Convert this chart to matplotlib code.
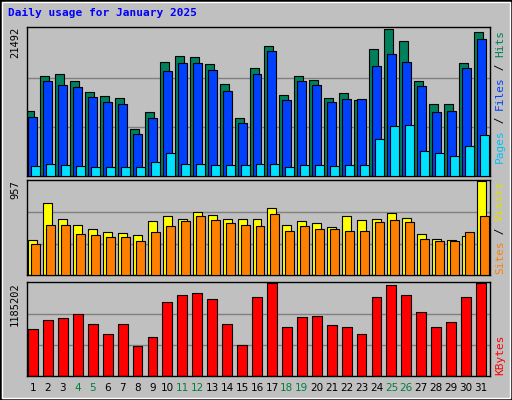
import numpy as np
import matplotlib
matplotlib.use('Agg')
import matplotlib.pyplot as plt
from matplotlib.patches import Rectangle

days = np.arange(1, 32)
hits = [9500, 14620, 14910, 13890, 12280, 11700, 11400, 6870, 9360, 16670, 17540, 17400, 16370, 13450, 8480,
        15790, 19010, 11840, 14620, 14040, 11400, 12130, 11110, 18570, 21350, 19740, 13890, 10530, 10530, 16520, 21050]
files = [8630, 13890, 13300, 13010, 11550, 10820, 10530, 6140, 8480, 15350, 16520, 16520, 15500, 12430, 7750,
         14910, 18280, 11110, 13890, 13300, 10820, 11260, 11260, 16080, 17840, 16670, 13160, 9360, 9500, 15790, 20030]
pages = [1460, 1750, 1610, 1460, 1320, 1320, 1320, 1320, 2050, 3360, 1750, 1750, 1610, 1610, 1610,
         1750, 1750, 1320, 1610, 1610, 1460, 1610, 1610, 5410, 7310, 7460, 3660, 3360, 2920, 4390, 5990]
visits = [358, 736, 568, 505, 463, 442, 431, 410, 547, 600, 568, 642, 610, 568, 568,
          568, 684, 505, 547, 526, 484, 600, 558, 568, 631, 579, 421, 368, 358, 400, 957]
sites = [316, 505, 505, 421, 410, 389, 389, 347, 442, 494, 547, 600, 558, 526, 505,
         494, 621, 452, 494, 463, 463, 452, 452, 537, 558, 537, 368, 347, 347, 442, 600]
kbyte_frac = [.509, .607, .618, .662, .564, .455, .564, .324, .422, .793, .869, .891, .825, .564, .335,
              .847, 1.0, .531, .629, .64, .553, .531, .455, .847, .978, .869, .684, .531, .575, .847, 1.0]
kbytes = [round(f * 1185202) for f in kbyte_frac]
weekend = [4, 5, 11, 12, 18, 19, 25, 26]

BG = '#C0C0C0'
W, H = 512, 400
fig = plt.figure(figsize=(W / 100, H / 100), dpi=100, facecolor=BG)
mono = 'DejaVu Sans Mono'

def px_axes(top, bottom):
    return fig.add_axes([27 / W, 1 - bottom / H, (490 - 27) / W, (bottom - top) / H], facecolor=BG)

def style(ax, ymax):
    ax.set_xlim(0.6, 31.6)
    ax.set_ylim(0, ymax * 1.01)
    ax.set_xticks([]); ax.set_yticks([])
    for y in (ymax / 3, ymax * 2 / 3):
        ax.axhline(y, color='#808080', lw=1, zorder=0)
    for s in ax.spines.values():
        s.set_color('black'); s.set_linewidth(1)

w = 0.6
ax1 = px_axes(27, 176)
ax1.bar(days - 0.2, hits, w, color='#00805C', edgecolor='black', lw=0.8, zorder=2)
ax1.bar(days, files, w, color='#0040FF', edgecolor='black', lw=0.8, zorder=3)
ax1.bar(days + 0.2, pages, w, color='#00E0FF', edgecolor='black', lw=0.8, zorder=4)
style(ax1, max(hits + [21492]))

ax2 = px_axes(180, 275)
ax2.bar(days, visits, w, color='#FFFF00', edgecolor='black', lw=0.8, zorder=2)
ax2.bar(days + 0.2, sites, w, color='#FF8000', edgecolor='black', lw=0.8, zorder=3)
style(ax2, 957)

ax3 = px_axes(282, 376)
ax3.bar(days, kbytes, 0.66, color='#FF0000', edgecolor='black', lw=0.8, zorder=2)
style(ax3, 1185202)

for d in days:
    ax3.text(d, -0.07, str(d), transform=ax3.get_xaxis_transform(), ha='center', va='top',
             fontsize=7.5, color='#008040' if d in weekend else 'black')

fig.text(8 / W, 1 - 8 / H, 'Daily usage for January 2025', color='#0000FF', fontsize=8,
         fontweight='bold', family=mono, ha='left', va='top')

for txt, top in (('21492', 27), ('957', 180), ('1185202', 282)):
    fig.text(15 / W, 1 - top / H, txt, rotation=90, fontsize=7.5, ha='center', va='top', family=mono)

def side_label(parts, y_start):
    y = y_start
    for s, c in parts:
        fig.text(500 / W, 1 - y / H, s, rotation=90, fontsize=8, color=c, family=mono,
                 ha='center', va='bottom')
        y -= len(s) * 6.6

side_label([('Pages', '#00C0FF'), (' / ', 'black'), ('Files', '#0040FF'),
            (' / ', 'black'), ('Hits', '#00805C')], 163)
side_label([('Sites', '#FF8000'), (' / ', 'black'), ('Visits', '#E0E000')], 274)
side_label([('KBytes', '#FF0000')], 375)

# 3D frame
fig.patches.append(Rectangle((0, 0), 1, 1, transform=fig.transFigure, fill=False,
                             edgecolor='black', lw=2))
fig.patches.append(Rectangle((2 / W, 2 / H), 1 - 4 / W, 1 - 4 / H, transform=fig.transFigure,
                             fill=False, edgecolor='white', lw=1))

fig.savefig('out.png', dpi=100, facecolor=BG)
